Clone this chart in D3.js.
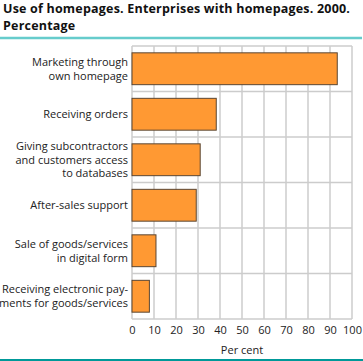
<!DOCTYPE html>
<html><head><meta charset="utf-8">
<script src="https://cdn.jsdelivr.net/npm/d3@7"></script>
<style>body{margin:0;background:#fff;} svg{display:block;}</style>
</head><body>
<svg id="c" width="363" height="361"></svg>
<script>
const titleLines = ["Use of homepages. Enterprises with homepages. 2000.", "Percentage"];
const categories = [
  ["Marketing through", "own homepage"],
  ["Receiving orders"],
  ["Giving subcontractors", "and customers access", "to databases"],
  ["After-sales support"],
  ["Sale of goods/services", "in digital form"],
  ["Receiving electronic pay-", "ments for goods/services"]
];
const values = [93.3, 38.3, 31, 29.2, 10.9, 7.9];
const ticks = [0,10,20,30,40,50,60,70,80,90,100];
const axisTitle = "Per cent";

const svg = d3.select("#c");
const font = "'Open Sans', 'DejaVu Sans', sans-serif";
const L = 132, R = 352, T = 46, B = 319;

const title = svg.append("text")
  .attr("font-family", font).attr("font-weight", "bold").attr("font-size", 12.5)
  .attr("letter-spacing", 0.2).attr("fill", "#111");
title.selectAll("tspan").data(titleLines).join("tspan")
  .attr("x", 3).attr("y", (d,i)=>13.4 + i*16.8).text(d=>d);

svg.append("line").attr("x1",0).attr("x2",362).attr("y1",38).attr("y2",38)
  .attr("stroke","#66cccc").attr("stroke-width",2.5);
svg.append("line").attr("x1",0).attr("x2",363).attr("y1",360).attr("y2",360)
  .attr("stroke","#009999").attr("stroke-width",2);

const x = d3.scaleLinear().domain([0,100]).range([L,R]);
const y = d3.scaleBand().domain(d3.range(categories.length)).range([T,B]).paddingInner(0.3).paddingOuter(0.15);
const band = (B-T)/categories.length;

// grid
const g = svg.append("g");
g.selectAll("line.v").data(ticks).join("line")
  .attr("x1", d=>x(d)).attr("x2", d=>x(d)).attr("y1", T).attr("y2", B)
  .attr("stroke", "#cccccc").attr("stroke-width", 1.5);
g.selectAll("line.h").data(d3.range(categories.length+1)).join("line")
  .attr("x1", L).attr("x2", R)
  .attr("y1", d=> T + d*band)
  .attr("y2", d=> T + d*band)
  .attr("stroke", "#cccccc").attr("stroke-width", 1.5);

// bars
svg.selectAll("rect.bar").data(values).join("rect")
  .attr("x", x(0)).attr("y", (d,i)=>y(i))
  .attr("width", d=>x(d)-x(0)).attr("height", y.bandwidth())
  .attr("fill", "#ff9933").attr("stroke", "#5a4632").attr("stroke-width", 1);

// category labels
categories.forEach((lines,i)=>{
  const cy = y(i) + y.bandwidth()/2;
  const lh = 13.6;
  const y0 = cy - (lines.length-1)*lh/2 + 4;
  const t = svg.append("text")
    .attr("text-anchor","end").attr("font-family", font).attr("font-size", 11)
    .attr("fill","#222");
  t.selectAll("tspan").data(lines).join("tspan")
    .attr("x", 128).attr("y", (d,j)=>y0 + j*lh).text(d=>d);
});

// axis
const ax = svg.append("g").attr("transform", `translate(0,${B})`)
  .call(d3.axisBottom(x).tickValues(ticks).tickSize(0).tickPadding(7).tickFormat(d3.format("d")));
ax.select(".domain").remove();
ax.selectAll("text").attr("font-family", font).attr("font-size", 11).attr("fill","#222");

svg.append("text").attr("x", x(50)).attr("y", 354).attr("text-anchor","middle")
  .attr("font-family", font).attr("font-size", 11).attr("fill","#222").text(axisTitle);
</script>
</body></html>
